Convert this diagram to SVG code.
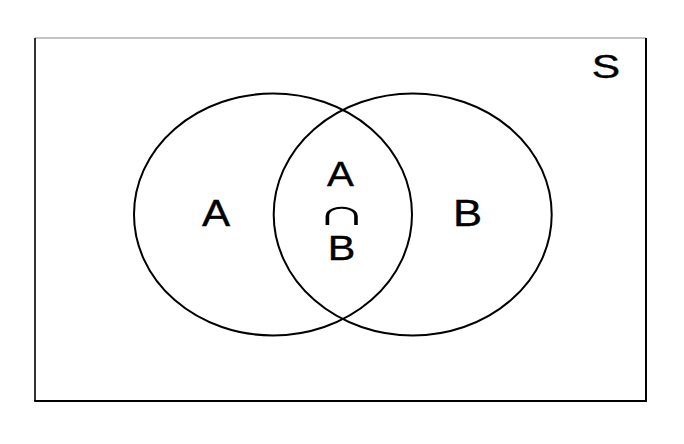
<svg xmlns="http://www.w3.org/2000/svg" width="684" height="444" viewBox="0 0 684 444">
<style>
.lbl{font-family:"Liberation Sans",Arial,sans-serif;font-size:37px;fill:#000;stroke:#000;stroke-width:0.4;text-anchor:middle}
.cap{font-family:"Liberation Sans",Arial,sans-serif;font-size:36px;fill:#000;text-anchor:middle}
.set{fill:none;stroke:#000;stroke-width:2}
</style>
<rect width="684" height="444" fill="#fff"/>
<g id="universe">
<line x1="35" y1="38" x2="646" y2="38" stroke="#888" stroke-width="1"/>
<line x1="35" y1="38" x2="35" y2="401" stroke="#000" stroke-width="1.6"/>
<line x1="646" y1="38" x2="646" y2="401" stroke="#000" stroke-width="2"/>
<line x1="34.2" y1="401" x2="647" y2="401" stroke="#000" stroke-width="2.2"/>
<text class="lbl" transform="translate(606,78) scale(1.25,1)" style="font-size:34px">S</text>
</g>
<g id="setA">
<ellipse class="set" cx="273" cy="214.5" rx="139" ry="121"/>
<text class="lbl" transform="translate(216,226) scale(1.14,1)">A</text>
</g>
<g id="setB">
<ellipse class="set" cx="412.7" cy="214.5" rx="139" ry="121"/>
<text class="lbl" transform="translate(467.5,226) scale(1.18,1)">B</text>
</g>
<g id="intersection">
<text class="lbl" transform="translate(340.5,186) scale(1.15,1)" style="font-size:35px">A</text>
<text class="cap" transform="translate(341.5,224.5) scale(2,1)">∩</text>
<text class="lbl" transform="translate(341.5,260) scale(1.18,1)" style="font-size:35px">B</text>
</g>
</svg>
